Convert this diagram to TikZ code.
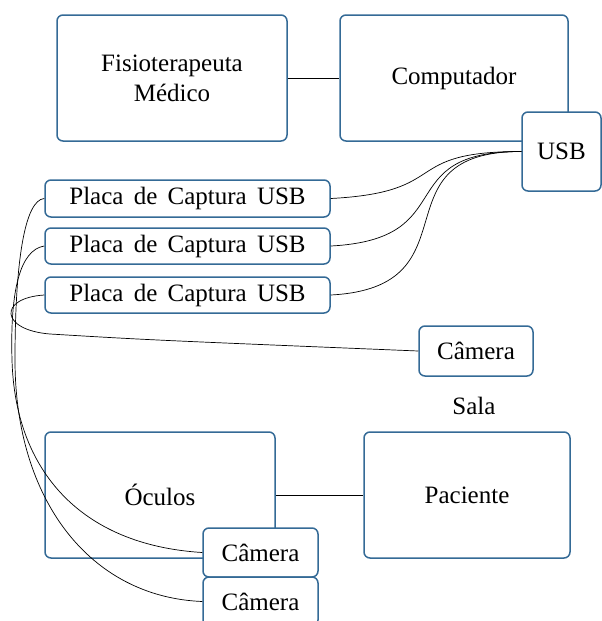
\documentclass[tikz,border=0pt]{standalone}
\usepackage{fontspec}
\setmainfont{Liberation Serif}
\usepackage{tikz}
\usetikzlibrary{positioning}

\definecolor{boxblue}{RGB}{52,106,150}
\newcommand{\placatext}{Placa\hspace{4pt} de\hspace{4pt} Captura\hspace{4pt} USB}

\begin{document}
\begin{tikzpicture}[x=1pt, y=-1pt,
    every node/.style={font=\fontsize{25}{30}\selectfont},
    bloco/.style={rectangle, rounded corners=6pt, draw=boxblue, line width=1.5pt, fill=white, align=center, inner sep=0pt},
    fio/.style={draw=black, line width=0.7pt}]
        \useasboundingbox (0,0) rectangle (602,621);
        % topo
        \node[bloco, minimum width=230pt, minimum height=126pt] (fisio) at (172, 78) {Fisioterapeuta\\M\'edico};
        \node[bloco, minimum width=228pt, minimum height=126pt] (comp) at (454, 78) {Computador};
        \node[bloco, minimum width=79pt, minimum height=79pt] (usb) at (561.5, 151.5) {USB};
        
        \draw[fio] (fisio) -- (comp);
        
        % placas de captura
        \node[bloco, minimum width=285pt, minimum height=37pt] (placa1) at (187.5, 198.5) {\placatext};
        \node[bloco, minimum width=285pt, minimum height=36pt] (placa2) at (187.5, 246) {\placatext};
        \node[bloco, minimum width=285pt, minimum height=36pt] (placa3) at (187.5, 295) {\placatext};
        
        \draw[fio] (usb.west) to[out=180, in=3, looseness=1.6] (placa1.east);
        \draw[fio] (usb.west) to[out=180, in=3, looseness=1.6] (placa2.east);
        \draw[fio] (usb.west) to[out=180, in=3, looseness=1.6] (placa3.east);
        
        % sala
        \node[bloco, minimum width=114pt, minimum height=50pt] (camsala) at (476, 351) {C\^amera};
        \node (sala) at (474, 406) {Sala};
        \node[bloco, minimum width=230pt, minimum height=126pt] (oculos) at (160, 495) {\'Oculos};
        \node[bloco, minimum width=206pt, minimum height=126pt] (paciente) at (467, 495) {Paciente};
        \node[bloco, minimum width=115pt, minimum height=49pt] (cam1) at (260.5, 552.5) {C\^amera};
        \node[bloco, minimum width=115pt, minimum height=49pt] (cam2) at (260.5, 601.5) {C\^amera};
        
        \draw[fio] (oculos) -- (paciente);
        
        % cabos das cameras
        \draw[fio] (placa3.west) .. controls (-2,298) and (0,330) .. (50,334) .. controls (150,340) .. (camsala.west);
        \draw[fio] (placa2.west) .. controls (20,250) and (10,290) .. (12,360) .. controls (15,470) and (80,545) .. (cam1.west);
        \draw[fio] (placa1.west) .. controls (25,200) and (15,260) .. (15,360) .. controls (15,500) and (90,597) .. (cam2.west);
    \end{tikzpicture}
\end{document}
